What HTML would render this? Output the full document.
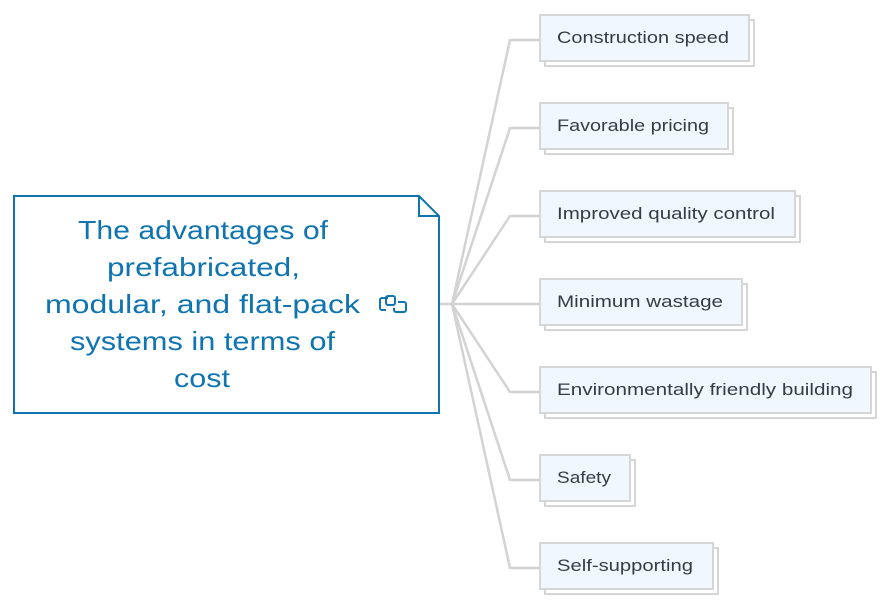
<!DOCTYPE html>
<html><head><style>
body{margin:0;width:891px;height:605px;background:#fff;overflow:hidden;font-family:"Liberation Sans",sans-serif}
</style></head><body>
<svg width="891" height="605" xmlns="http://www.w3.org/2000/svg">
<g stroke="#d3d3d3" stroke-width="2.5" fill="none">
<path d="M439 304H452L510 40H540"/>
<path d="M452 304L510 128H540"/>
<path d="M452 304L510 216H540"/>
<path d="M452 304H540"/>
<path d="M452 304L510 392H540"/>
<path d="M452 304L510 480H540"/>
<path d="M452 304L510 568H540"/>
</g>
<path d="M14 196H419L439 216V413H14Z" fill="#fff" stroke="#0f74b0" stroke-width="2"/>
<path d="M419 196V216H439" fill="none" stroke="#0f74b0" stroke-width="2"/>
<g fill="#0f74b0" font-size="26">
<text x="78" y="239" textLength="250" lengthAdjust="spacingAndGlyphs">The advantages of</text>
<text x="107" y="276" textLength="193" lengthAdjust="spacingAndGlyphs">prefabricated,</text>
<text x="45" y="313" textLength="315" lengthAdjust="spacingAndGlyphs">modular, and flat-pack</text>
<text x="70" y="350" textLength="265" lengthAdjust="spacingAndGlyphs">systems in terms of</text>
<text x="174" y="387" textLength="56" lengthAdjust="spacingAndGlyphs">cost</text>
</g>
<g fill="none" stroke="#0f74b0" stroke-width="2">
<path d="M388 298h-6a2 2 0 0 0-2 2v8a2 2 0 0 0 2 2h4"/>
<rect x="386" y="296" width="9" height="9" rx="2"/>
<path d="M398 302h6a2 2 0 0 1 2 2v6a2 2 0 0 1-2 2h-8a2 2 0 0 1-2-2v-2"/>
</g>
<g stroke="#d6d6d6" stroke-width="2" fill="#f0f7ff" font-size="17">
<g><rect x="545" y="20" width="209" height="46" fill="#fff"/><rect x="540" y="15" width="209" height="46"/><text x="557" y="43" fill="#333d47" stroke="none" textLength="172" lengthAdjust="spacingAndGlyphs">Construction speed</text></g>
<g><rect x="545" y="108" width="188" height="46" fill="#fff"/><rect x="540" y="103" width="188" height="46"/><text x="557" y="131" fill="#333d47" stroke="none" textLength="152" lengthAdjust="spacingAndGlyphs">Favorable pricing</text></g>
<g><rect x="545" y="196" width="255" height="46" fill="#fff"/><rect x="540" y="191" width="255" height="46"/><text x="557" y="219" fill="#333d47" stroke="none" textLength="218" lengthAdjust="spacingAndGlyphs">Improved quality control</text></g>
<g><rect x="545" y="284" width="202" height="46" fill="#fff"/><rect x="540" y="279" width="202" height="46"/><text x="557" y="307" fill="#333d47" stroke="none" textLength="166" lengthAdjust="spacingAndGlyphs">Minimum wastage</text></g>
<g><rect x="545" y="372" width="331" height="46" fill="#fff"/><rect x="540" y="367" width="331" height="46"/><text x="557" y="395" fill="#333d47" stroke="none" textLength="296" lengthAdjust="spacingAndGlyphs">Environmentally friendly building</text></g>
<g><rect x="545" y="460" width="90" height="46" fill="#fff"/><rect x="540" y="455" width="90" height="46"/><text x="557" y="483" fill="#333d47" stroke="none" textLength="54" lengthAdjust="spacingAndGlyphs">Safety</text></g>
<g><rect x="545" y="548" width="173" height="46" fill="#fff"/><rect x="540" y="543" width="173" height="46"/><text x="557" y="571" fill="#333d47" stroke="none" textLength="136" lengthAdjust="spacingAndGlyphs">Self-supporting</text></g>
</g>
</svg>
</body></html>
